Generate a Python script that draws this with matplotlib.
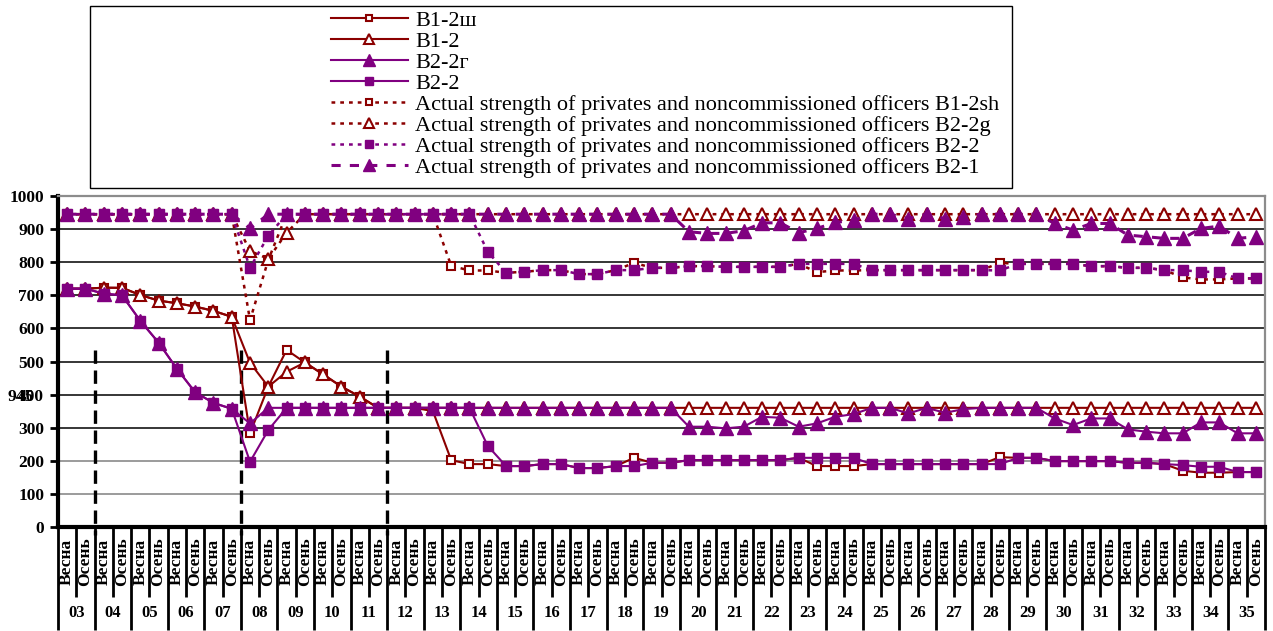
import matplotlib.pyplot as plt
import matplotlib.transforms as mtransforms
from matplotlib.patches import Rectangle

plt.rcParams["font.family"] = ["Liberation Serif", "DejaVu Serif"]

# подписи оси X: годы и сезоны призыва
years = ["03", "04", "05", "06", "07", "08", "09", "10", "11", "12", "13",
         "14", "15", "16", "17", "18", "19", "20", "21", "22", "23", "24",
         "25", "26", "27", "28", "29", "30", "31", "32", "33", "34", "35"]
seasons = ["Весна", "Осень"]

# штатная численность (по парам весна/осень)
b1_2sh = [720, 720, 723, 723, 701, 684, 676, 666, 653, 635,
          283, 424, 535, 497, 461, 424, 394, 360, 360, 360,
          350, 202, 190, 190, 184, 184, 190, 190, 178, 178,
          184, 209, 194, 194, 202, 202, 202, 202, 202, 202,
          209, 184, 184, 184, 190, 190, 190, 190, 190, 190,
          190, 211, 209, 209, 199, 199, 199, 199, 194, 194,
          190, 170, 164, 164, 166, 166]
b1_2 = [720, 720, 723, 722, 701, 684, 676, 666, 653, 635,
        496, 424, 469, 497, 461, 424, 394, 360, 360, 360,
        360, 360, 360, 360, 360, 360, 360, 360, 360, 360,
        360, 360, 360, 360, 360, 360, 360, 360, 360, 360,
        360, 360, 360, 360, 360, 360, 360, 360, 360, 360,
        360, 360, 360, 360, 360, 360, 360, 360, 360, 360,
        360, 360, 360, 360, 360, 360]
b2_2g = [720, 720, 705, 700, 623, 557, 478, 407, 375, 357,
         313, 360, 360, 360, 360, 360, 360, 360, 360, 360,
         360, 360, 360, 360, 360, 360, 360, 360, 360, 360,
         360, 360, 360, 360, 303, 303, 298, 303, 333, 330,
         303, 313, 333, 341, 360, 360, 343, 360, 345, 356,
         360, 360, 360, 360, 328, 308, 328, 328, 295, 288,
         283, 283, 316, 316, 283, 283]
b2_2 = [720, 720, 705, 700, 623, 557, 478, 407, 375, 357,
        197, 293, 360, 360, 360, 360, 360, 360, 360, 360,
        360, 360, 360, 245, 184, 184, 190, 190, 178, 178,
        184, 184, 194, 194, 202, 202, 202, 202, 202, 202,
        209, 209, 209, 209, 190, 190, 190, 190, 190, 190,
        190, 190, 209, 209, 199, 199, 199, 199, 194, 194,
        190, 187, 182, 182, 166, 166]

# фактическая численность рядовых и сержантов
act_b1_2sh = [945, 945, 945, 945, 945, 945, 945, 945, 945, 945,
              625, 807, 945, 945, 945, 945, 945, 945, 945, 945,
              945, 789, 775, 775, 768, 771, 776, 776, 764, 764,
              776, 798, 783, 783, 788, 788, 786, 786, 786, 786,
              795, 770, 775, 775, 776, 776, 776, 776, 776, 776,
              776, 798, 795, 795, 795, 795, 788, 788, 783, 783,
              776, 754, 748, 748, 751, 751]
act_b2_2g = [945, 945, 945, 945, 945, 945, 945, 945, 945, 945,
             834, 810, 889, 945, 945, 945, 945, 945, 945, 945,
             945, 945, 945, 945, 945, 945, 945, 945, 945, 945,
             945, 945, 945, 945, 945, 945, 945, 945, 945, 945,
             945, 945, 945, 945, 945, 945, 945, 945, 945, 945,
             945, 945, 945, 945, 945, 945, 945, 945, 945, 945,
             945, 945, 945, 945, 945, 945]
act_b2_2 = [945, 945, 945, 945, 945, 945, 945, 945, 945, 945,
            783, 880, 945, 945, 945, 945, 945, 945, 945, 945,
            945, 945, 945, 832, 768, 771, 776, 776, 764, 764,
            776, 776, 783, 783, 788, 788, 786, 786, 786, 786,
            795, 795, 795, 795, 776, 776, 776, 776, 776, 776,
            776, 775, 795, 795, 795, 795, 788, 788, 783, 783,
            776, 776, 771, 771, 751, 751]
act_b2_1 = [945, 945, 945, 945, 945, 945, 945, 945, 945, 945,
            902, 945, 945, 945, 945, 945, 945, 945, 945, 945,
            945, 945, 945, 945, 945, 945, 945, 945, 945, 945,
            945, 945, 945, 945, 892, 887, 887, 895, 919, 919,
            889, 902, 920, 927, 945, 945, 932, 945, 932, 937,
            945, 945, 945, 945, 917, 897, 917, 917, 882, 877,
            872, 872, 902, 909, 872, 877]

RED = "#8b0000"
PURPLE = "#800080"

n = len(b1_2sh)
x = list(range(n))

W, H = 1273, 631
fig = plt.figure(figsize=(W / 100, H / 100), dpi=100)
ax = fig.add_axes([58 / W, 1 - 527 / H, (1265 - 58) / W, (527 - 196) / H])

# ── горизонтальная сетка ─────────────────────────────────────────────────
for v in range(100, 1000, 100):
    ax.axhline(v, color="#808080" if v <= 200 else "black", lw=1.1, zorder=0.5)

# ── ряды ─────────────────────────────────────────────────────────────────
ax.plot(x, b1_2sh, color=RED, lw=1.5, marker="s", ms=6, mfc="white", mec=RED, mew=1.5, label="B1-2ш")
ax.plot(x, b1_2, color=RED, lw=1.5, marker="^", ms=9, mfc="white", mec=RED, mew=1.5, label="B1-2")
ax.plot(x, b2_2g, color=PURPLE, lw=1.5, marker="^", ms=10, mfc=PURPLE, mec=PURPLE, label="B2-2г")
ax.plot(x, b2_2, color=PURPLE, lw=1.5, marker="s", ms=7, mfc=PURPLE, mec=PURPLE, label="B2-2")
ax.plot(x, act_b1_2sh, color=RED, lw=1.8, ls=(0, (1.5, 2)), marker="s", ms=6, mfc="white", mec=RED, mew=1.5,
        label="Actual strength of privates and noncommissioned officers B1-2sh")
ax.plot(x, act_b2_2g, color=RED, lw=1.8, ls=(0, (1.5, 2)), marker="^", ms=9, mfc="white", mec=RED, mew=1.5,
        label="Actual strength of privates and noncommissioned officers B2-2g")
ax.plot(x, act_b2_2, color=PURPLE, lw=1.8, ls=(0, (1.5, 2)), marker="s", ms=7, mfc=PURPLE, mec=PURPLE,
        label="Actual strength of privates and noncommissioned officers B2-2")
ax.plot(x, act_b2_1, color=PURPLE, lw=2.2, ls=(0, (3, 3)), marker="^", ms=10, mfc=PURPLE, mec=PURPLE,
        label="Actual strength of privates and noncommissioned officers B2-1")

# вертикальные пунктирные разделители периодов
for b in (1.5, 9.5, 17.5):
    ax.plot([b, b], [535, -25], color="black", lw=2.4, ls=(0, (4, 2)), clip_on=False, zorder=1)

ax.set_xlim(-0.5, n - 0.5)
ax.set_ylim(0, 1000)
ax.set_yticks(range(0, 1001, 100))
ax.set_xticks([])
ax.tick_params(axis="y", length=6, width=2, pad=4, labelsize=12.5)
for t in ax.get_yticklabels():
    t.set_fontweight("bold")

ax.spines["left"].set_linewidth(3)
ax.spines["bottom"].set_linewidth(3)
for s in ("top", "right"):
    ax.spines[s].set_color("#8c8c8c")
    ax.spines[s].set_linewidth(1.6)

ax.text(-0.02, 393, "945", transform=mtransforms.blended_transform_factory(ax.transAxes, ax.transData),
        ha="right", va="center", fontsize=12.5, fontweight="bold")

# ── двухуровневые подписи оси X ──────────────────────────────────────────
trans = mtransforms.blended_transform_factory(ax.transData, ax.transAxes)
ax_h = 527 - 196
for i in range(n):
    ax.text(i, -(562 - 527) / ax_h, seasons[i % 2], transform=trans, rotation=90,
            ha="center", va="center", fontsize=12.5, fontweight="bold")
for k, yr in enumerate(years):
    ax.text(2 * k + 0.5, -(613 - 527) / ax_h, yr, transform=trans,
            ha="center", va="center", fontsize=12, fontweight="bold")
for b in range(n + 1):
    edge = b - 0.5
    bottom = 630 if b % 2 == 0 else 597
    ax.plot([edge, edge], [0, -(bottom - 527) / ax_h], transform=trans, color="black",
            lw=2, clip_on=False, solid_capstyle="butt")

# ── легенда в рамке ──────────────────────────────────────────────────────
fig.add_artist(Rectangle((90 / W, 1 - 188 / H), (1012 - 90) / W, (188 - 6) / H,
                         transform=fig.transFigure, fill=False, ec="black", lw=1))
fig.legend(loc="upper left", bbox_to_anchor=(331 / W, 1 - 10 / H), frameon=False,
           fontsize=16, labelspacing=0.02, handlelength=3.45, handletextpad=0.33,
           borderpad=0, borderaxespad=0, markerscale=0.8)

fig.savefig("out.png", dpi=100)
